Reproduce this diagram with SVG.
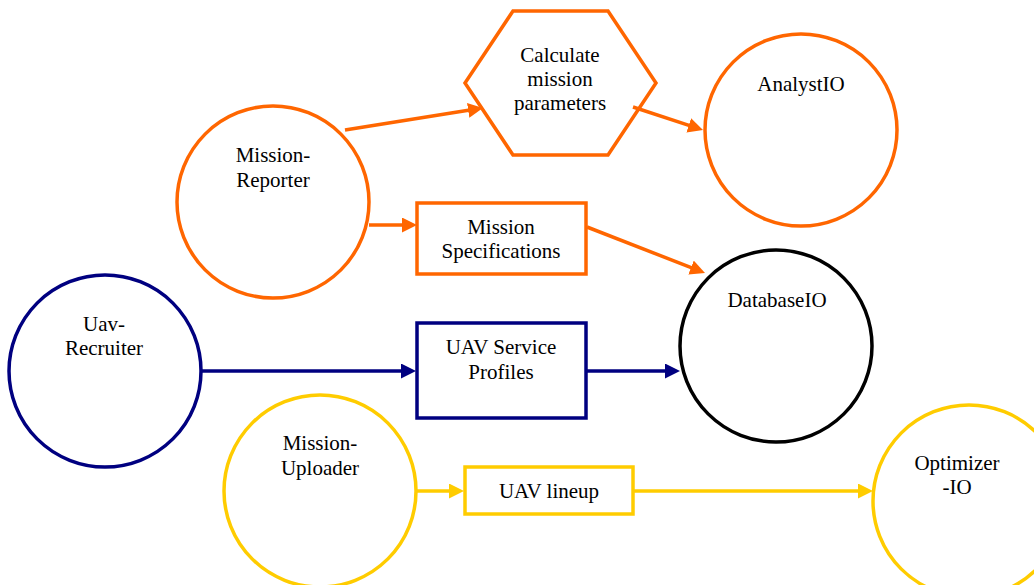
<svg xmlns="http://www.w3.org/2000/svg" width="1034" height="585" viewBox="0 0 1034 585">
<style>
  text { font-family: "Liberation Serif", "Times New Roman", serif; font-size: 21px; fill: #000; text-anchor: middle; }
  .shape { fill: #fff; stroke-width: 3.5; }
  .orange { stroke: #FF6600; }
  .navy { stroke: #000080; }
  .yellow { stroke: #FFCC00; }
  .black { stroke: #000; }
  .conn { fill: none; stroke-width: 3.5; }
</style>
<defs>
  <marker id="arrO" markerUnits="userSpaceOnUse" markerWidth="16" markerHeight="16" refX="5" refY="7.5" orient="auto">
    <path d="M0,0 L15,7.5 L0,15 z" fill="#FF6600"/>
  </marker>
  <marker id="arrN" markerUnits="userSpaceOnUse" markerWidth="16" markerHeight="16" refX="5" refY="7.5" orient="auto">
    <path d="M0,0 L15,7.5 L0,15 z" fill="#000080"/>
  </marker>
  <marker id="arrY" markerUnits="userSpaceOnUse" markerWidth="16" markerHeight="16" refX="5" refY="7.5" orient="auto">
    <path d="M0,0 L15,7.5 L0,15 z" fill="#FFCC00"/>
  </marker>
</defs>
<rect width="1034" height="585" fill="#fff"/>

<g id="mission-reporter">
  <circle class="shape orange" cx="273" cy="202" r="96"/>
  <text x="273" y="162">Mission-</text>
  <text x="273" y="187">Reporter</text>
</g>
<g id="calculate-mission-parameters">
  <polygon class="shape orange" points="513,11 608,11 656,83 608,155 513,155 465,83"/>
  <text x="560" y="62">Calculate</text>
  <text x="560" y="86">mission</text>
  <text x="560" y="110">parameters</text>
</g>
<g id="analystio">
  <circle class="shape orange" cx="801" cy="130" r="96"/>
  <text x="801" y="91">AnalystIO</text>
</g>
<g id="mission-specifications">
  <rect class="shape orange" x="417" y="203" width="169" height="71"/>
  <text x="501" y="234">Mission</text>
  <text x="501" y="258">Specifications</text>
</g>
<g id="databaseio">
  <circle class="shape black" cx="776" cy="346" r="96"/>
  <text x="777" y="307">DatabaseIO</text>
</g>
<g id="uav-recruiter">
  <circle class="shape navy" cx="105" cy="371" r="96"/>
  <text x="104" y="331">Uav-</text>
  <text x="104" y="355">Recruiter</text>
</g>
<g id="uav-service-profiles">
  <rect class="shape navy" x="417" y="323" width="169" height="95"/>
  <text x="501" y="354">UAV Service</text>
  <text x="501" y="379">Profiles</text>
</g>
<g id="mission-uploader">
  <circle class="shape yellow" cx="320" cy="491" r="96"/>
  <text x="320" y="450">Mission-</text>
  <text x="320" y="475">Uploader</text>
</g>
<g id="uav-lineup">
  <rect class="shape yellow" x="465" y="467" width="168" height="47"/>
  <text x="549" y="498">UAV lineup</text>
</g>
<g id="optimizer-io">
  <circle class="shape yellow" cx="969" cy="501" r="96"/>
  <text x="957" y="470">Optimizer</text>
  <text x="957" y="494">-IO</text>
</g>

<g id="connectors">
  <line class="conn orange" x1="345" y1="130" x2="473.1" y2="109.6" marker-end="url(#arrO)"/>
  <line class="conn orange" x1="633" y1="107" x2="693.5" y2="126.9" marker-end="url(#arrO)"/>
  <line class="conn orange" x1="369" y1="225" x2="407" y2="225" marker-end="url(#arrO)"/>
  <line class="conn orange" x1="587" y1="227" x2="695.7" y2="269.4" marker-end="url(#arrO)"/>
  <line class="conn navy" x1="202" y1="371" x2="406" y2="371" marker-end="url(#arrN)"/>
  <line class="conn navy" x1="586" y1="371" x2="670" y2="371" marker-end="url(#arrN)"/>
  <line class="conn yellow" x1="416" y1="491" x2="454" y2="491" marker-end="url(#arrY)"/>
  <line class="conn yellow" x1="633" y1="491" x2="863" y2="491" marker-end="url(#arrY)"/>
</g>
</svg>
